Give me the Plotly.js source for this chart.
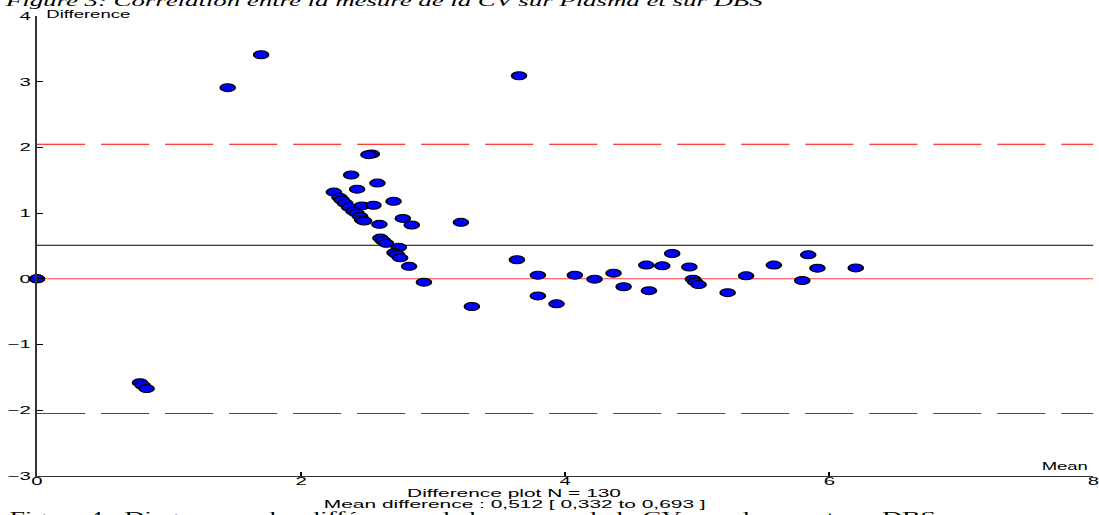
<!DOCTYPE html>
<html>
<head>
<meta charset="utf-8">
<script src="https://cdn.plot.ly/plotly-3.0.1.min.js"></script>
<style>
html,body{margin:0;padding:0;overflow:hidden;background:#fff;width:1099px;height:515px;}
#plot{width:594px;height:515px;transform:scaleX(1.85017);transform-origin:0 0;}
</style>
</head>
<body>
<div id="plot"></div>
<script>
// Bland-Altman style difference plot: x = mean of the two measures, y = difference
const meanValues = [0, 0, 0.78, 0.80, 0.83, 1.444, 1.697, 3.65,
  2.535, 2.51, 2.379, 2.578, 2.424, 2.248, 2.29, 2.308, 2.333, 2.364, 2.46, 2.548, 2.70,
  2.397, 2.42, 2.447, 2.462, 2.477, 2.593, 2.77, 2.838, 3.21,
  2.60, 2.62, 2.644, 2.74, 2.707, 2.725, 2.75, 2.818, 2.93,
  3.293, 3.634, 3.793, 3.793, 3.934, 4.073, 4.222, 4.366, 4.442, 4.614, 4.634, 4.735,
  4.81, 4.94, 4.967, 4.985, 5.01, 5.23, 5.37, 5.58, 5.795, 5.84, 5.91, 6.20];
const diffValues = [0, 0, -1.58, -1.62, -1.67, 2.91, 3.41, 3.09,
  1.90, 1.89, 1.58, 1.457, 1.365, 1.32, 1.24, 1.20, 1.15, 1.09, 1.11, 1.12, 1.18,
  1.03, 1.00, 0.95, 0.90, 0.88, 0.83, 0.92, 0.82, 0.86,
  0.62, 0.58, 0.54, 0.48, 0.40, 0.37, 0.32, 0.19, -0.05,
  -0.42, 0.29, 0.056, -0.26, -0.38, 0.056, -0.005, 0.087, -0.12, 0.21, -0.18, 0.198,
  0.386, 0.18, -0.005, -0.046, -0.087, -0.21, 0.046, 0.21, -0.025, 0.365, 0.163, 0.167];

const meanDifference = 0.512;
const limitLines = [2.05, -2.05];
const xRange = [0, 8];
const yRange = [-3, 4];
const xTicks = [0, 2, 4, 6, 8];
const yTicks = [-3, -2, -1, 0, 1, 2, 3, 4];

const topCaption = "Figure 3: Corrélation entre la mesure de la CV sur Plasma et sur DBS";
const bottomCaption = "Figure 4 : Diagramme des différences de la mesure de la CV sur plasma et sur DBS";
const footer1 = "Difference plot N = 130";
const footer2 = "Mean difference : 0,512 [ 0,332 to 0,693 ]";

const traces = [];
limitLines.forEach(v => traces.push({
  x: xRange, y: [v, v], mode: 'lines', hoverinfo: 'skip',
  line: {color: '#ff0000', width: 1, dash: '26px,8.6px'}
}));
traces.push({x: xRange, y: [0, 0], mode: 'lines', line: {color: '#ff4040', width: 1}});
traces.push({x: xRange, y: [meanDifference, meanDifference], mode: 'lines', line: {color: '#000', width: 1}});
traces.push({
  x: meanValues, y: diffValues, mode: 'markers', cliponaxis: false,
  marker: {color: '#0000ff', size: 8, line: {color: '#000', width: 1}}
});

const axisFont = {family: 'Arial, "Liberation Sans", sans-serif', size: 11, color: '#000'};
const footFont = {family: 'Arial, "Liberation Sans", sans-serif', size: 11.3, color: '#000'};
const layout = {
  width: 594, height: 515,
  margin: {l: 20, r: 3.2, t: 16, b: 39},
  paper_bgcolor: '#fff', plot_bgcolor: '#fff',
  showlegend: false,
  xaxis: {range: xRange, tickvals: xTicks, ticks: 'inside', ticklen: 4, tickcolor: '#000',
    showgrid: false, zeroline: false, showline: true, linecolor: '#333', linewidth: 1.2,
    tickfont: axisFont, fixedrange: true, ticklabeloverflow: 'allow', ticklabelstandoff: -5},
  yaxis: {range: yRange, tickvals: yTicks, ticks: 'inside', ticklen: 3, tickcolor: '#000',
    showgrid: false, zeroline: false, showline: true, linecolor: '#333', linewidth: 1.2,
    tickfont: axisFont, fixedrange: true, ticklabeloverflow: 'allow'},
  annotations: [
    {text: 'Difference', xref: 'paper', yref: 'paper', x: 0, y: 1.0043, xanchor: 'left', yanchor: 'middle',
      xshift: 3, showarrow: false, font: {family: 'Arial, "Liberation Sans", sans-serif', size: 10, color: '#000'}},
    {text: 'Mean', xref: 'paper', yref: 'paper', x: 0.999, y: 0.0217, xanchor: 'right', yanchor: 'middle',
      showarrow: false, font: {family: 'Arial, "Liberation Sans", sans-serif', size: 10, color: '#000'}},
    {text: footer1, xref: 'paper', yref: 'paper', x: 0.4517, y: -0.038, xanchor: 'center', yanchor: 'middle',
      showarrow: false, font: footFont},
    {text: footer2, xref: 'paper', yref: 'paper', x: 0.4517, y: -0.061, xanchor: 'center', yanchor: 'middle',
      showarrow: false, font: footFont},
    {text: topCaption, xref: 'paper', yref: 'paper', x: -0.035, y: 1.0326, xanchor: 'left', yanchor: 'middle',
      showarrow: false, font: {family: '"Liberation Serif", "Times New Roman", serif', size: 14.5, style: 'italic', color: '#000'}},
    {text: bottomCaption, xref: 'paper', yref: 'paper', x: -0.03, y: -0.089, xanchor: 'left', yanchor: 'middle',
      showarrow: false, font: {family: '"Liberation Serif", "Times New Roman", serif', size: 15, color: '#000'}}
  ]
};

Plotly.newPlot('plot', traces, layout, {staticPlot: true, displayModeBar: false});
</script>
</body>
</html>
